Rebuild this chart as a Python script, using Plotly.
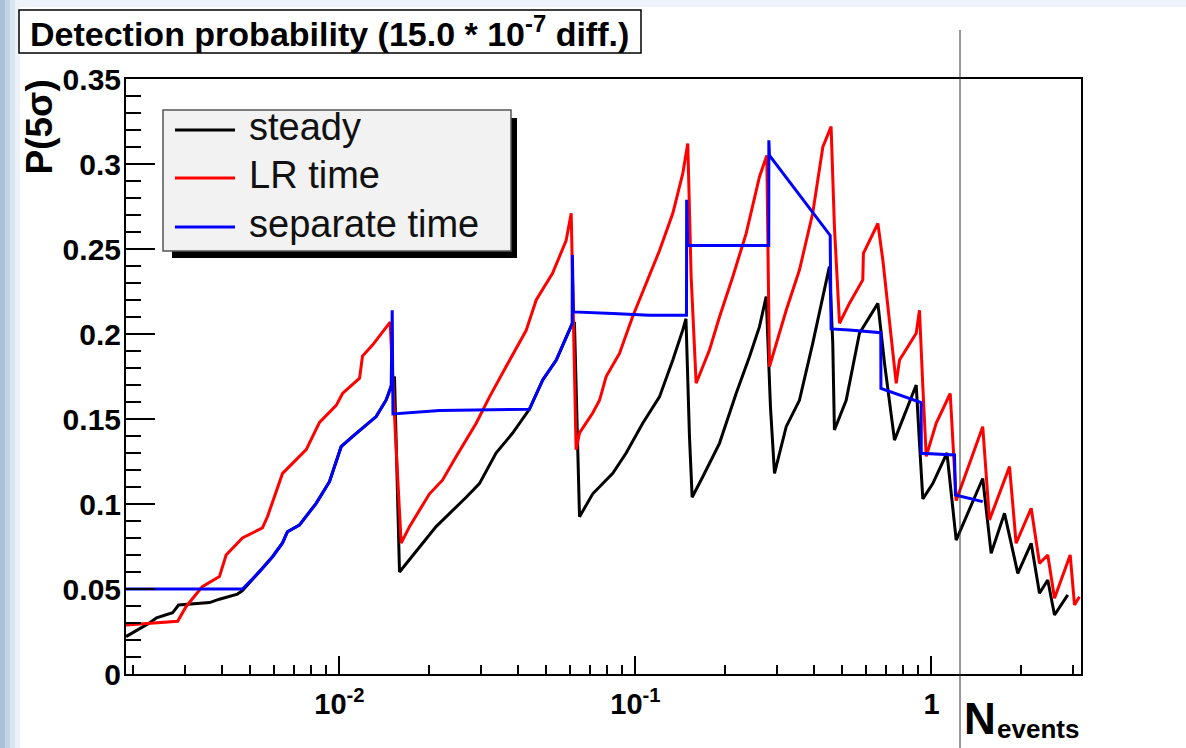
import math
import plotly.graph_objects as go

# ---------------- data ----------------
steady_x = [0.0019, 0.00228, 0.00241, 0.00273, 0.00286, 0.00364, 0.00393, 0.00452, 0.0047,
            0.00537, 0.00594, 0.00642, 0.00667, 0.00732, 0.00834, 0.00925, 0.01013, 0.01106,
            0.0133, 0.01438, 0.01495, 0.01534, 0.01595, 0.0212, 0.0268, 0.0297, 0.0338, 0.0384,
            0.0438, 0.0486, 0.054, 0.0583, 0.0611, 0.0622, 0.0647, 0.0717, 0.0838, 0.093, 0.1058,
            0.1205, 0.1337, 0.1445, 0.1481, 0.1522, 0.1554, 0.1688, 0.1922, 0.2188, 0.2427,
            0.2624, 0.2764, 0.2858, 0.2949, 0.323, 0.358, 0.397, 0.441, 0.452, 0.464, 0.470,
            0.515, 0.571, 0.659, 0.694, 0.750, 0.821, 0.888, 0.911, 0.935, 1.010, 1.128, 1.212,
            1.490, 1.591, 1.765, 1.957, 2.172, 2.317, 2.471, 2.604, 2.887]
steady_y = [0.022, 0.030, 0.033, 0.036, 0.0406, 0.042, 0.044, 0.047, 0.049,
            0.0602, 0.069, 0.0771, 0.0837, 0.0876, 0.1004, 0.1131, 0.1337, 0.1396,
            0.1514, 0.1612, 0.169, 0.175, 0.060, 0.0867, 0.104, 0.112, 0.130, 0.1416,
            0.1557, 0.173, 0.1847, 0.198, 0.206, 0.207, 0.0925, 0.106, 0.118, 0.130, 0.1475,
            0.163, 0.1847, 0.2024, 0.209, 0.1396, 0.104, 0.116, 0.1357, 0.165, 0.1866,
            0.2043, 0.222, 0.157, 0.118, 0.1455, 0.161, 0.1945, 0.2318, 0.2396, 0.1945, 0.1435,
            0.161, 0.2004, 0.218, 0.1828, 0.1376, 0.155, 0.170, 0.1357, 0.103, 0.112, 0.130, 0.0788,
            0.115, 0.071, 0.0945, 0.0592, 0.0769, 0.0475, 0.0553, 0.0347, 0.0465]

lr_x = [0.0019, 0.00284, 0.00303, 0.00344, 0.00393, 0.00414, 0.0047, 0.00549, 0.00571, 0.00642,
        0.00772, 0.00856, 0.00975, 0.01024, 0.01169, 0.01196, 0.01293, 0.01438, 0.01483, 0.01546,
        0.01616, 0.01724, 0.02014, 0.02228, 0.02479, 0.02896, 0.03213, 0.0366, 0.0427, 0.0462,
        0.05245, 0.0583, 0.06065, 0.0630, 0.0647, 0.0717, 0.0756, 0.0796, 0.0883, 0.0977,
        0.1087, 0.1205, 0.1337, 0.1445, 0.1502, 0.1542, 0.1603, 0.1778, 0.1922, 0.2132,
        0.2366, 0.2624, 0.2777, 0.2836, 0.323, 0.358, 0.397, 0.4295, 0.458, 0.464,
        0.470, 0.489, 0.528, 0.586, 0.589, 0.659, 0.685, 0.760, 0.780, 0.888,
        0.911, 0.935, 0.960, 1.037, 1.157, 1.212, 1.490, 1.570, 1.835, 1.932,
        2.172, 2.317, 2.471, 2.604, 2.942, 3.042, 3.162]
lr_y = [0.0288, 0.031, 0.0396, 0.0514, 0.0573, 0.070, 0.080, 0.086, 0.0925, 0.118,
        0.132, 0.148, 0.158, 0.165, 0.174, 0.187, 0.1935, 0.2035, 0.207, 0.14,
        0.077, 0.0867, 0.106, 0.114, 0.128, 0.1475, 0.163, 0.181, 0.202, 0.220,
        0.2357, 0.255, 0.271, 0.132, 0.1418, 0.1535, 0.161, 0.175, 0.1886, 0.210,
        0.2298, 0.249, 0.271, 0.2945, 0.312, 0.2337, 0.171, 0.1906, 0.210, 0.2337,
        0.2592, 0.2925, 0.305, 0.1808, 0.214, 0.2376, 0.271, 0.310, 0.322, 0.2925,
        0.263, 0.2063, 0.218, 0.2318, 0.2475, 0.265, 0.2435, 0.171, 0.1847, 0.2004,
        0.214, 0.169, 0.128, 0.1475, 0.165, 0.102, 0.1455, 0.0906, 0.122, 0.0769,
        0.0975, 0.0651, 0.070, 0.0445, 0.070, 0.0406, 0.0455]

sep_x = [0.0019, 0.0047, 0.00537, 0.00594, 0.00642, 0.00667, 0.00732, 0.00834, 0.00925, 0.01013,
         0.01106, 0.0133, 0.01438, 0.01495, 0.01507, 0.01516, 0.02177, 0.0438, 0.0486, 0.054,
         0.0583, 0.0611, 0.0612, 0.0617, 0.0838, 0.1115, 0.1487, 0.1489, 0.1502, 0.2820,
         0.2822, 0.2836, 0.4548, 0.458, 0.528, 0.674, 0.675, 0.899, 0.923, 0.9235,
         1.196, 1.205, 1.490]
sep_y = [0.05, 0.05, 0.0602, 0.069, 0.0771, 0.0837, 0.0876, 0.1004, 0.1131, 0.1337,
         0.1396, 0.1514, 0.1612, 0.169, 0.214, 0.153, 0.155, 0.1557, 0.173, 0.1847,
         0.198, 0.206, 0.2465, 0.213, 0.212, 0.211, 0.211, 0.279, 0.252, 0.252,
         0.314, 0.305, 0.258, 0.203, 0.2024, 0.2008, 0.168, 0.160, 0.1596, 0.1298,
         0.1288, 0.1053, 0.1014]

series_names = ["steady", "LR time", "separate time"]
series_colors = ["#000000", "#ff0000", "#0000ff"]

y_tickvals = [0, 0.05, 0.1, 0.15, 0.2, 0.25, 0.3, 0.35]
y_ticktext = ["0", "0.05", "0.1", "0.15", "0.2", "0.25", "0.3", "0.35"]
y_minor = [i / 100 for i in range(0, 36)]
x_tickvals = [0.01, 0.1, 1]
x_ticktext = ["10<sup>-2</sup>", "10<sup>-1</sup>", "1"]
x_minor = [0.002, 0.003, 0.004, 0.005, 0.006, 0.007, 0.008, 0.009,
           0.02, 0.03, 0.04, 0.05, 0.06, 0.07, 0.08, 0.09,
           0.2, 0.3, 0.4, 0.5, 0.6, 0.7, 0.8, 0.9, 2, 3]
x_range = [0.0019, 3.2]
y_range = [0, 0.35]

title_text = "Detection probability (15.0 * 10<sup>-7</sup> diff.)"

# ---------------- layout geometry (pixels) ----------------
W, H = 1186, 748
L, R, T, B = 126, 1081, 79, 674
FONT = "Liberation Sans, Arial, Helvetica, sans-serif"


def px(x):
    return (x - L) / (R - L)


def py(y):
    return (B - y) / (B - T)


fig = go.Figure()
for xs, ys, name, col in [(steady_x, steady_y, series_names[0], series_colors[0]),
                          (lr_x, lr_y, series_names[1], series_colors[1]),
                          (sep_x, sep_y, series_names[2], series_colors[2])]:
    fig.add_trace(go.Scatter(x=xs, y=ys, mode="lines", name=name,
                             line=dict(color=col, width=3), showlegend=False))

fig.update_layout(
    width=W, height=H, autosize=False,
    margin=dict(l=L, r=W - R, t=T, b=H - B, pad=0),
    paper_bgcolor="white", plot_bgcolor="white",
    font=dict(family=FONT, color="black"),
)
fig.update_xaxes(
    type="log", range=[math.log10(x_range[0]), math.log10(x_range[1])],
    showgrid=False, zeroline=False,
    showline=True, linecolor="black", linewidth=2, mirror=True,
    tickmode="array", tickvals=x_tickvals, ticktext=x_ticktext,
    ticks="inside", ticklen=18, tickwidth=2, tickcolor="black",
    tickfont=dict(size=29, family=FONT, weight="bold"),
    ticklabelstandoff=3,
    minor=dict(tickmode="array", tickvals=x_minor, ticks="inside", ticklen=9,
               tickwidth=2, tickcolor="black", showgrid=False),
)
fig.update_yaxes(
    range=y_range, showgrid=False, zeroline=False,
    showline=True, linecolor="black", linewidth=2, mirror=True,
    tickmode="array", tickvals=y_tickvals, ticktext=y_ticktext,
    ticks="inside", ticklen=29, tickwidth=2, tickcolor="black",
    tickfont=dict(size=30, family=FONT, weight="bold"),
    ticklabelstandoff=-3,
    minor=dict(tickmode="array", tickvals=y_minor, ticks="inside", ticklen=15,
               tickwidth=2, tickcolor="black", showgrid=False),
)

shapes = []
# slide background hints (left strip / top band)
bg_cols = ["#a9c0d8", "#c2d4e6", "#d9e5f0", "#ecf2f8"]
for i, c in enumerate(bg_cols):
    shapes.append(dict(type="rect", xref="paper", yref="paper", layer="below",
                       x0=px(i * 5), x1=px(i * 5 + 5), y0=py(H), y1=py(0),
                       fillcolor=c, line=dict(width=0)))
shapes.append(dict(type="rect", xref="paper", yref="paper", layer="below",
                   x0=px(20), x1=px(1186), y0=py(7), y1=py(0),
                   fillcolor="#eef4f9", line=dict(width=0)))
# title box
shapes.append(dict(type="rect", xref="paper", yref="paper", layer="above",
                   x0=px(19), x1=px(641), y0=py(53), y1=py(10),
                   fillcolor="white", line=dict(color="black", width=1.5)))
# vertical slide line
shapes.append(dict(type="line", xref="paper", yref="paper", layer="above",
                   x0=px(960), x1=px(960), y0=py(H), y1=py(30),
                   line=dict(color="#333333", width=1)))
# legend shadow + box
shapes.append(dict(type="rect", xref="paper", yref="paper", layer="above",
                   x0=px(172), x1=px(517), y0=py(258), y1=py(118),
                   fillcolor="black", line=dict(width=0)))
shapes.append(dict(type="rect", xref="paper", yref="paper", layer="above",
                   x0=px(163), x1=px(511), y0=py(251), y1=py(110),
                   fillcolor="#f2f2f2", line=dict(color="#555555", width=1.5)))
leg_y = [130, 178, 227]
for yy, col in zip(leg_y, series_colors):
    shapes.append(dict(type="line", xref="paper", yref="paper", layer="above",
                       x0=px(175), x1=px(235), y0=py(yy), y1=py(yy),
                       line=dict(color=col, width=3)))

annotations = []
for yy, name in zip(leg_y, series_names):
    annotations.append(dict(xref="paper", yref="paper", x=px(247), y=py(yy - 3),
                            xanchor="left", yanchor="middle", showarrow=False,
                            text=name, font=dict(size=38, family=FONT, color="#111111")))
annotations.append(dict(xref="paper", yref="paper", x=px(329), y=py(31),
                        xanchor="center", yanchor="middle", showarrow=False,
                        text=title_text,
                        font=dict(size=34, family=FONT, color="black", weight="bold")))
annotations.append(dict(xref="paper", yref="paper", x=px(39), y=py(78),
                        xanchor="center", yanchor="top", showarrow=False, textangle=-90,
                        text="P(5σ)",
                        font=dict(size=37, family=FONT, color="black", weight="bold")))
annotations.append(dict(xref="paper", yref="paper", x=px(962), y=py(718),
                        xanchor="left", yanchor="middle", showarrow=False,
                        text="N", font=dict(size=44, family=FONT, color="black", weight="bold")))
annotations.append(dict(xref="paper", yref="paper", x=px(995), y=py(729),
                        xanchor="left", yanchor="middle", showarrow=False,
                        text="events", font=dict(size=26, family=FONT, color="black", weight="bold")))

fig.update_layout(shapes=shapes, annotations=annotations)
fig.write_html("out.html", config={"displayModeBar": False},
               post_script="document.body.style.margin='0';document.body.style.padding='0';")
